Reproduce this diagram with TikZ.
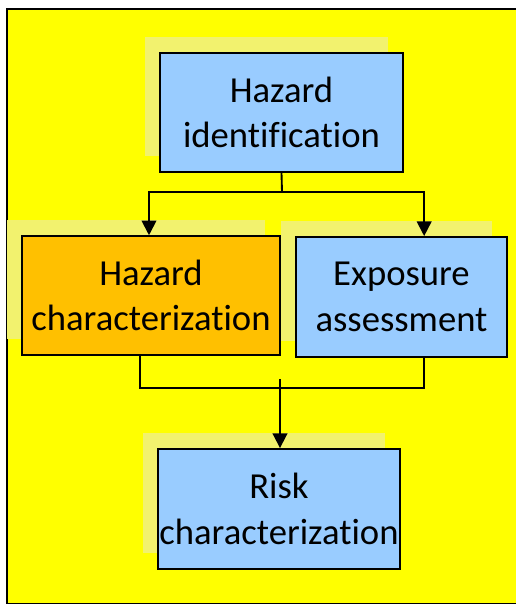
\documentclass[tikz,border=0pt]{standalone}
\usepackage{fontspec}
\setmainfont{Carlito}[RawFeature=-liga]
\usetikzlibrary{arrows.meta, positioning, shadows}
\definecolor{bgyellow}{RGB}{255,255,0}
\definecolor{paleyellow}{RGB}{242,242,110}
\definecolor{boxblue}{RGB}{153,204,255}
\definecolor{boxorange}{RGB}{255,192,0}
\tikzstyle{line} = [draw, -{Triangle[length=11pt,width=11pt]}, line width=1.4pt]
\tikzstyle{wire} = [draw, line width=1.4pt]
\tikzstyle{block} = [rectangle, draw, line width=1.4pt, fill=boxblue,
  align=center, inner sep=0pt, font=\fontsize{27.5}{34}\selectfont,
  general shadow={draw=none, fill=paleyellow, shadow xshift=-11.5pt, shadow yshift=12pt}]
\tikzstyle{oblock} = [block, fill=boxorange]

\begin{document}
\begin{tikzpicture}[x=0.75pt, y=-0.75pt]
    \useasboundingbox (0,0) rectangle (516,604);
    \path [fill=bgyellow, draw=black, line width=1.4pt] (7,9) rectangle (540,603.5);

    \node [block, minimum width=182pt, minimum height=89pt] (ident) at (281.5,112.5) {Hazard\\identification};
    \node [oblock, minimum width=193.5pt, minimum height=89pt] (hchar) at (151,295.5) {Hazard\\characterization};
    \node [block, minimum width=158pt, minimum height=90pt] (expo) at (401.5,297) {Exposure\\assessment};
    \node [block, minimum width=181.5pt, minimum height=90pt] (risk) at (279,509) {Risk\\characterization};

    \coordinate (split) at (282,192);
    \coordinate (merge) at (280,379);

    \path [wire] (ident.south) -- (split);
    \path [line] (split) -| ([xshift=-1.5pt]hchar.north);
    \path [line] (split) -| ([xshift=17pt]expo.north);
    \path [wire] ([xshift=-8pt]hchar.south) -- ++(0,32) -| ([xshift=17pt]expo.south);
    \path [line] (merge) -- (merge |- risk.north);
\end{tikzpicture}
\end{document}
